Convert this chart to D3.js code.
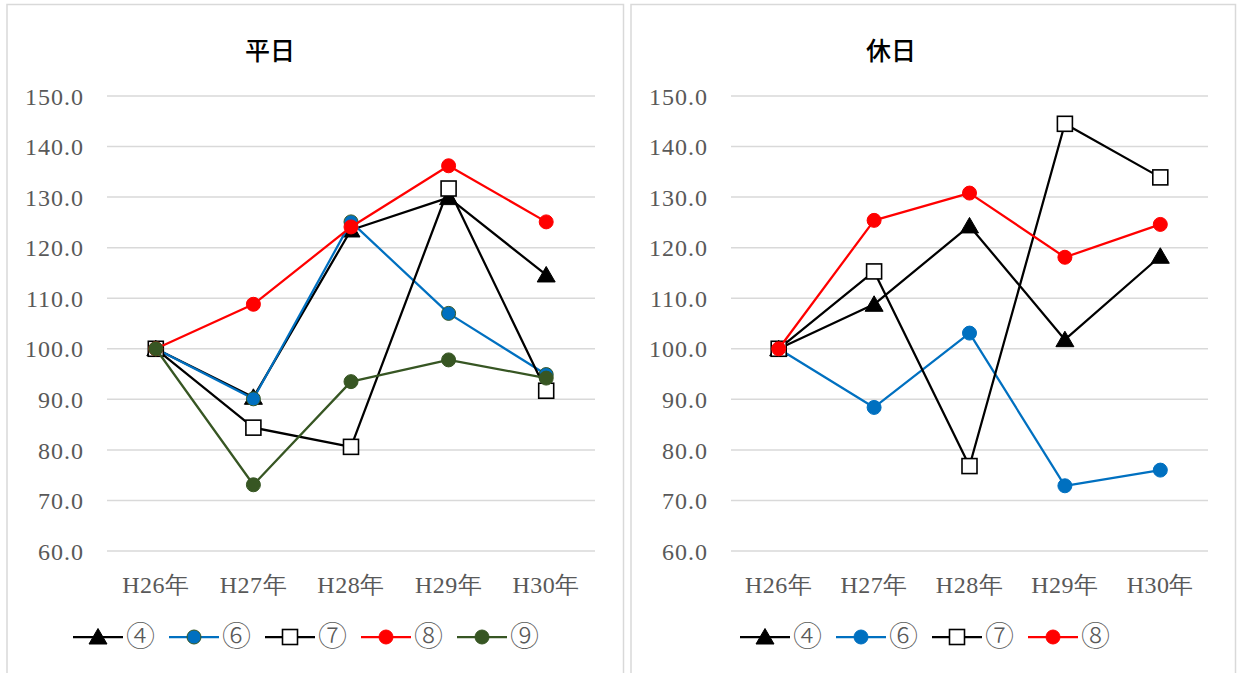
<!DOCTYPE html>
<html><head><meta charset="utf-8">
<script src="https://cdn.jsdelivr.net/npm/d3@7"></script>
<style>
html,body{margin:0;padding:0;background:#fff;}
svg{display:block;}
</style></head>
<body>
<svg id="c" width="1239" height="673"></svg>
<script>
const categories = ["H26年","H27年","H28年","H29年","H30年"];
const yTicks = [60,70,80,90,100,110,120,130,140,150];
const seriesNames = ["④","⑥","⑦","⑧","⑨"];
// 平日
const weekday4 = [100, 90.4, 123.5, 129.9, 114.6];
const weekday6 = [100, 90.1, 125.1, 107.0, 94.9];
const weekday7 = [100, 84.4, 80.6, 131.7, 91.7];
const weekday8 = [100, 108.8, 124.1, 136.2, 125.1];
const weekday9 = [100, 73.1, 93.5, 97.8, 94.2];
// 休日
const holiday4 = [100, 108.8, 124.3, 101.8, 118.3];
const holiday6 = [100, 88.4, 103.1, 72.9, 76.0];
const holiday7 = [100, 115.3, 76.8, 144.5, 133.9];
const holiday8 = [100, 125.4, 130.8, 118.1, 124.6];

const styles = {
  "④": {color:"#000000", marker:"triangle", fill:"#000000", stroke:"#000000"},
  "⑥L": {color:"#0070C0", marker:"circle", fill:"#0070C0", stroke:"#375623"},
  "⑥R": {color:"#0070C0", marker:"circle", fill:"#0070C0", stroke:"#0070C0"},
  "⑦": {color:"#000000", marker:"square", fill:"#ffffff", stroke:"#000000"},
  "⑧": {color:"#FF0000", marker:"circle", fill:"#FF0000", stroke:"#FF0000"},
  "⑨": {color:"#375623", marker:"circle", fill:"#375623", stroke:"#375623"}
};

const svg = d3.select("#c");
const serif = "'Liberation Serif','DejaVu Serif',serif";

function drawMarker(g, type, x, y, st){
  if(type==="circle"){
    g.append("circle").attr("cx",x).attr("cy",y).attr("r",7)
      .attr("fill",st.fill).attr("stroke",st.stroke).attr("stroke-width",1);
  } else if(type==="square"){
    g.append("rect").attr("x",x-7.5).attr("y",y-7.5).attr("width",15).attr("height",15)
      .attr("fill",st.fill).attr("stroke",st.stroke).attr("stroke-width",1.6);
  } else {
    g.append("path").attr("d",`M${x},${y-8.5}L${x+9},${y+7}L${x-9},${y+7}Z`)
      .attr("fill",st.fill).attr("stroke",st.stroke).attr("stroke-width",1);
  }
}

function panel(cfg){
  const g = svg.append("g");
  g.append("rect").attr("x",cfg.bx).attr("y",4.5).attr("width",cfg.bw).attr("height",700)
    .attr("fill","#fff").attr("stroke","#d9d9d9").attr("stroke-width",1.5);
  g.append("text").attr("x",cfg.titleX).attr("y",60).attr("text-anchor","middle")
    .attr("font-family","'Noto Sans CJK JP',sans-serif").attr("font-size",25).attr("font-weight",500)
    .attr("fill","#000").text(cfg.title);
  const x = d3.scaleBand().domain(categories).range([cfg.x0,cfg.x1]);
  const y = d3.scaleLinear().domain([60,150]).range([551,96]);
  // gridlines
  g.append("g").selectAll("line").data(yTicks).join("line")
    .attr("x1",cfg.x0).attr("x2",cfg.x1).attr("y1",d=>y(d)).attr("y2",d=>y(d))
    .attr("stroke","#d9d9d9").attr("stroke-width",1.5);
  // y axis
  const ya = g.append("g").attr("transform",`translate(${cfg.x0-23},0)`)
    .call(d3.axisLeft(y).tickValues(yTicks).tickFormat(d3.format(".1f")).tickSize(0).tickPadding(0));
  ya.select(".domain").remove();
  ya.selectAll("text").attr("font-family",serif).attr("font-size",24).attr("letter-spacing","1px")
    .attr("fill","#595959").attr("dy","0.34em");
  // x axis
  const xa = g.append("g").attr("transform",`translate(0,${585})`)
    .call(d3.axisBottom(x).tickSize(0).tickPadding(0));
  xa.select(".domain").remove();
  xa.selectAll("text").attr("font-family",serif).attr("font-size",24).attr("letter-spacing","0.5px")
    .attr("fill","#595959").attr("dy","0.34em");
  const cx = d => x(d) + x.bandwidth()/2;
  const line = d3.line().x((d,i)=>cx(categories[i])).y(d=>y(d));
  cfg.series.forEach(s=>{
    const st = styles[s.style];
    g.append("path").datum(s.values).attr("d",line).attr("fill","none")
      .attr("stroke",st.color).attr("stroke-width",2.25).attr("stroke-linejoin","round");
    const mg = g.append("g");
    s.values.forEach((v,i)=> drawMarker(mg, st.marker, cx(categories[i]), y(v), st));
  });
  // legend
  cfg.series.forEach((s,i)=>{
    const st = styles[s.style];
    const lx = cfg.legX + i*96, ly = 637;
    g.append("line").attr("x1",lx).attr("x2",lx+50).attr("y1",ly).attr("y2",ly)
      .attr("stroke",st.color).attr("stroke-width",2.25);
    drawMarker(g, st.marker, lx+25, ly, st);
    g.append("text").attr("x",lx+53).attr("y",ly).attr("dy","0.36em")
      .attr("font-family","'Noto Sans CJK JP',sans-serif").attr("font-size",29).attr("font-weight",300)
      .attr("fill","#595959").text(s.name);
  });
}

panel({bx:7, bw:616.5, title:"平日", titleX:270, x0:107, x1:595, legX:73,
  series:[
    {name:seriesNames[0], values:weekday4, style:"④"},
    {name:seriesNames[1], values:weekday6, style:"⑥L"},
    {name:seriesNames[2], values:weekday7, style:"⑦"},
    {name:seriesNames[3], values:weekday8, style:"⑧"},
    {name:seriesNames[4], values:weekday9, style:"⑨"}
  ]});
panel({bx:631, bw:604.5, title:"休日", titleX:891, x0:731, x1:1208, legX:740,
  series:[
    {name:seriesNames[0], values:holiday4, style:"④"},
    {name:seriesNames[1], values:holiday6, style:"⑥R"},
    {name:seriesNames[2], values:holiday7, style:"⑦"},
    {name:seriesNames[3], values:holiday8, style:"⑧"}
  ]});
</script>
</body></html>
